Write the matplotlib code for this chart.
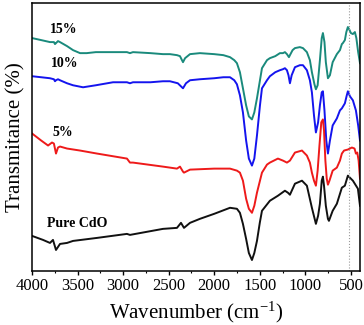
import matplotlib
matplotlib.use("Agg")
import matplotlib.pyplot as plt
from matplotlib.ticker import MultipleLocator

plt.rcParams['font.family'] = ['Liberation Serif', 'DejaVu Serif']
plt.rcParams['mathtext.fontset'] = 'custom'
plt.rcParams['mathtext.rm'] = 'Liberation Serif'
plt.rcParams['mathtext.it'] = 'Liberation Serif:italic'

# ---- data (wavenumber, transmittance in arbitrary offset units) ----
wn_15 = [4000, 3900, 3803, 3760, 3748, 3737, 3715, 3693, 3616, 3550, 3473, 3400, 3300, 3111,
         2958, 2925, 2892, 2700, 2563, 2486, 2409, 2376, 2343, 2320, 2266, 2157, 2000, 1900,
         1827, 1780, 1751, 1718, 1685, 1650, 1620, 1586, 1560, 1531, 1498, 1476, 1421, 1389,
         1330, 1279, 1246, 1224, 1202, 1180, 1169, 1140, 1114, 1060, 1026, 983, 950, 928, 900,
         884, 865, 840, 820, 807, 790, 775, 752, 730, 700, 654, 620, 599, 588, 566, 550, 533,
         515, 500, 478, 456, 440, 420, 400]
t_15 = [232, 230, 228, 228, 226, 227, 229, 228, 224, 220, 217, 217, 218, 218,
        218, 217, 218, 217, 216, 216, 215, 214, 208, 212, 216, 217, 216, 215,
        213, 210, 207, 198, 182, 165, 154, 151, 158, 172, 190, 202, 210, 212,
        214, 217, 217, 218, 216, 213, 215, 220, 222, 223, 222, 218, 210, 198, 186,
        181, 185, 210, 232, 237, 228, 208, 192, 195, 208, 216, 220, 226, 227, 230, 238, 243,
        240, 237, 236, 238, 232, 218, 207]

wn_10 = [4000, 3900, 3803, 3760, 3748, 3737, 3715, 3693, 3616, 3550, 3440, 3300, 3111, 2958,
         2925, 2892, 2700, 2563, 2486, 2400, 2343, 2310, 2266, 2157, 2000, 1900, 1827, 1780,
         1751, 1718, 1685, 1650, 1620, 1586, 1560, 1531, 1498, 1476, 1421, 1389, 1330, 1279,
         1246, 1224, 1202, 1185, 1169, 1150, 1114, 1060, 1026, 983, 950, 928, 905, 884, 860,
         840, 820, 807, 790, 770, 752, 730, 700, 654, 620, 599, 566, 545, 533, 510, 478, 445,
         420, 400]
t_10 = [194, 193, 192, 191, 189, 190, 191, 190, 187, 185, 183, 185, 188, 188,
        187, 188, 188, 189, 189, 187, 182, 187, 190, 191, 192, 193, 193, 190,
        186, 175, 158, 130, 112, 105, 112, 135, 165, 182, 190, 194, 198, 200,
        201, 202, 200, 195, 187, 195, 203, 205, 205, 200, 190, 178, 155, 138, 148,
        165, 178, 179, 160, 130, 117, 130, 145, 152, 160, 162, 167, 175, 179, 174, 170, 160,
        145, 130]

wn_5 = [4000, 3900, 3824, 3781, 3760, 3737, 3715, 3693, 3616, 3473, 3287, 2958, 2925, 2892,
        2563, 2409, 2376, 2343, 2332, 2266, 2000, 1827, 1751, 1718, 1685, 1650, 1620, 1586,
        1560, 1531, 1498, 1476, 1421, 1389, 1301, 1246, 1202, 1169, 1114, 1037, 983, 950, 928,
        905, 884, 865, 845, 825, 807, 795, 780, 765, 752, 735, 700, 654, 620, 599, 575, 533,
        489, 460, 445, 430, 415, 400]
t_5 = [137, 130, 125, 128, 127, 117, 123, 124, 122, 120, 117, 112, 108, 108,
       104, 102, 104, 99, 98, 101, 102, 102, 100, 98, 90, 72, 62, 58,
       65, 78, 90, 98, 106, 108, 112, 110, 108, 110, 118, 120, 115, 108, 98,
       90, 85, 100, 125, 148, 151, 140, 110, 92, 86, 90, 100, 103, 110, 117, 120, 121,
       123, 122, 117, 118, 110, 92]

wn_pure = [4000, 3879, 3803, 3770, 3737, 3693, 3616, 3550, 3287, 2958, 2925, 2563, 2409, 2365,
           2332, 2266, 2157, 2000, 1827, 1751, 1718, 1685, 1650, 1620, 1586, 1560, 1531, 1500,
           1476, 1389, 1301, 1224, 1191, 1169, 1114, 1037, 983, 928, 884, 860, 840, 820, 807,
           795, 775, 752, 741, 700, 654, 599, 566, 533, 478, 423, 400]
t_pure = [35, 31, 28, 31, 21, 27, 28, 30, 33, 37, 36, 42, 43, 48,
          43, 48, 52, 57, 63, 62, 58, 47, 32, 18, 11, 18, 30, 48,
          60, 70, 75, 80, 78, 76, 87, 90, 85, 63, 47, 55, 67, 90, 94,
          85, 65, 52, 50, 60, 67, 83, 85, 95, 90, 82, 65]

series_labels = ["15%", "10%", "5%", "Pure CdO"]
label_wn = [3650, 3640, 3660, 3506]
label_t = [241, 207, 138, 47]
colors = ["#1a8a7c", "#1414ee", "#ee1a1a", "#111111"]

xticks = [4000, 3500, 3000, 2500, 2000, 1500, 1000, 500]
ref_line_wn = 522

fig = plt.figure(figsize=(3.64, 3.25), dpi=100)
ax = fig.add_axes([0.088, 0.166, 0.901, 0.825])

for wn, t, c in zip([wn_15, wn_10, wn_5, wn_pure], [t_15, t_10, t_5, t_pure], colors):
    ax.plot(wn, t, color=c, lw=1.4, solid_joinstyle='round')

for lab, x, y in zip(series_labels, label_wn, label_t):
    ax.text(x, y, lab, fontsize=10, fontweight='bold', ha='center', va='center')

ax.axvline(ref_line_wn, color='#9a9a9a', ls=':', lw=0.8)

ax.set_xlim(4000, 400)
ax.set_ylim(0, 267)
ax.set_xticks(xticks)
ax.set_xticklabels([str(v) for v in xticks])
ax.xaxis.set_minor_locator(MultipleLocator(250))
ax.set_yticks([])
ax.tick_params(axis='x', which='major', direction='out', length=3, width=1, labelsize=12, pad=2)
ax.tick_params(axis='x', which='minor', direction='out', length=1.5, width=0.8)
for s in ax.spines.values():
    s.set_linewidth(1.1)

ax.set_xlabel('Wavenumber (cm$^{-1}$)', fontsize=15, labelpad=4)
ax.set_ylabel('Transmitance (%)', fontsize=15, labelpad=5)

fig.savefig('out.png', dpi=100)
